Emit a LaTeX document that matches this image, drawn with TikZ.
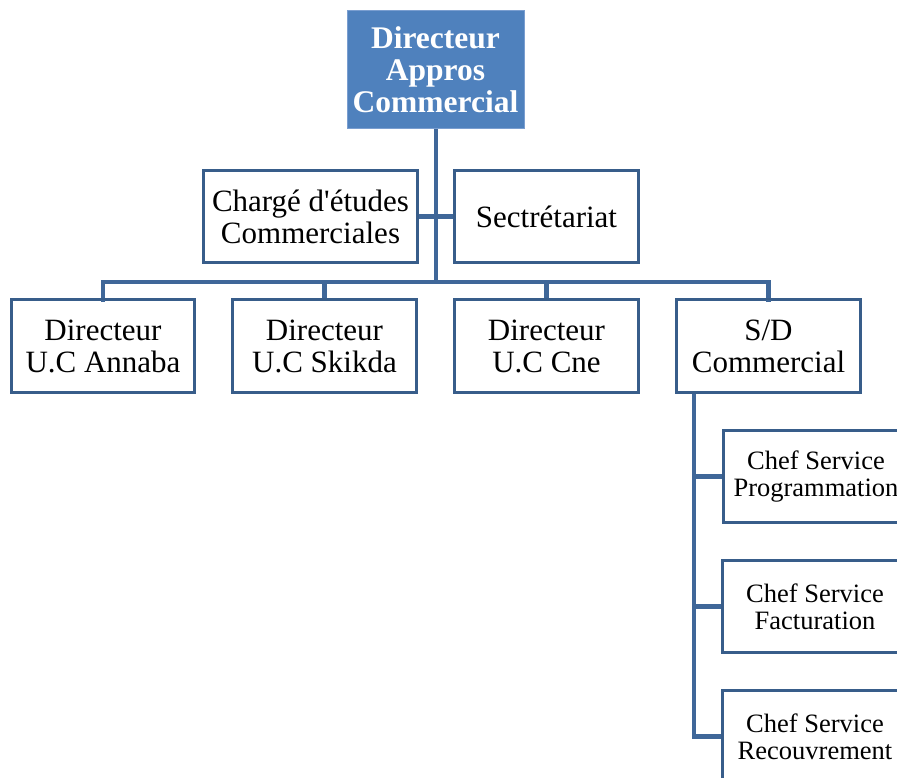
\documentclass[tikz,border=0pt]{standalone}
\usepackage{fontspec}
\setmainfont{Liberation Serif}
\definecolor{headfill}{HTML}{4F81BD}
\definecolor{headline}{HTML}{7A9ED0}
\definecolor{boxline}{HTML}{385D8A}
\definecolor{linkline}{HTML}{3F6799}
\begin{document}
\begin{tikzpicture}[x=1pt,y=-1pt,
  unitbox/.style={draw=boxline,line width=1.8pt,fill=white,rectangle,
    inner sep=0pt,align=center,text=black},
  midbox/.style={unitbox,font=\fontsize{31}{32}\selectfont},
  chefbox/.style={unitbox,font=\fontsize{26.5}{27}\selectfont,
    minimum width=184pt,minimum height=91pt},
  headbox/.style={rectangle,fill=headfill,draw=headline,line width=1pt,
    inner sep=0pt,align=center,text=white,
    font=\bfseries\fontsize{31.5}{32}\selectfont},
  link/.style={draw=linkline,line width=4.8pt}]
\useasboundingbox (0,0) rectangle (897,778);
\clip (0,0) rectangle (897,778);

% director
\node[headbox,minimum width=177pt,minimum height=118pt] (top) at (435.5,70) {Directeur\\Appros\\Commercial};

% staff level
\node[midbox,minimum width=213pt,minimum height=91pt] (chg) at (310.5,216.5) {Chargé d\textquotesingle études\\Commerciales};
\node[midbox,minimum width=183pt,minimum height=91pt] (sec) at (546.5,216.5) {Sectrétariat};

% unit directors
\node[midbox,minimum width=182pt,minimum height=92pt] (ua) at (103,346) {Directeur\\U.C Annaba};
\node[midbox,minimum width=183pt,minimum height=92pt] (us) at (324.5,346) {Directeur\\U.C Skikda};
\node[midbox,minimum width=183pt,minimum height=92pt] (uc) at (546.5,346) {Directeur\\U.C Cne};
\node[midbox,minimum width=183pt,minimum height=92pt] (sd) at (768.5,346) {S/D\\Commercial};

% services
\node[chefbox] (c1) at (816,476.5) {Chef Service\\Programmation};
\node[chefbox] (c2) at (815,606.5) {Chef Service\\Facturation};
\node[chefbox] (c3) at (815,736.5) {Chef Service\\Recouvrement};

% connectors
\coordinate (bus) at (436,282);
\coordinate (spine) at (694,392);
\draw[link] (top.south -| bus) -- (bus);
\draw[link] (chg.east) -- (sec.west);
\draw[link,line cap=rect] (ua.north) |- (bus) -| (sd.north);
\draw[link] (us.north) -- (us.north |- bus);
\draw[link] (uc.north) -- (uc.north |- bus);
\draw[link] (spine) |- (c3.west);
\draw[link] (spine |- c1.west) -- (c1.west);
\draw[link] (spine |- c2.west) -- (c2.west);

% box borders drawn over the connector ends
\foreach \n in {chg,sec,ua,us,uc,sd,c1,c2,c3}
  \draw[boxline,line width=1.8pt] (\n.south west) rectangle (\n.north east);
\end{tikzpicture}
\end{document}
